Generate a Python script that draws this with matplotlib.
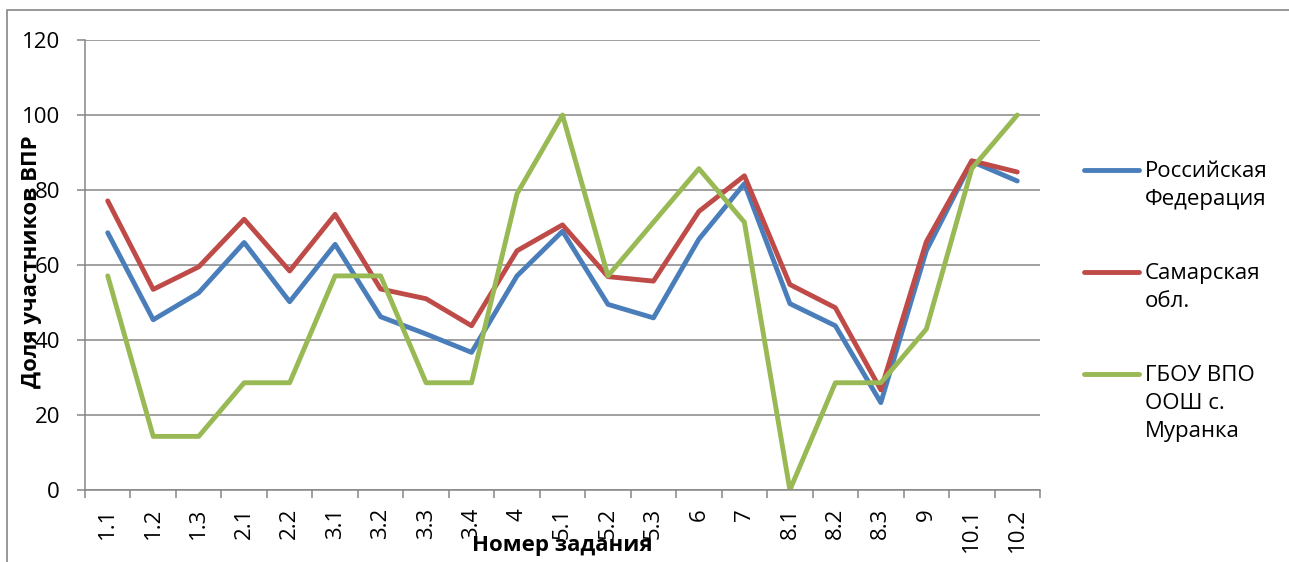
import matplotlib
matplotlib.use("Agg")
from matplotlib import pyplot as plt
from matplotlib.patches import Rectangle
from matplotlib.lines import Line2D
import numpy as np

plt.rcParams['font.family'] = ['Open Sans', 'DejaVu Sans']

tasks = ['1.1', '1.2', '1.3', '2.1', '2.2', '3.1', '3.2', '3.3', '3.4', '4',
         '5.1', '5.2', '5.3', '6', '7', '8.1', '8.2', '8.3', '9', '10.1', '10.2']

russia = [68.6, 45.4, 52.6, 66.0, 50.2, 65.5, 46.2, 41.6, 36.7, 57.1,
          69.0, 49.5, 45.9, 66.9, 81.7, 49.7, 43.8, 23.3, 63.8, 87.6, 82.4]
samara = [77.1, 53.5, 59.5, 72.2, 58.4, 73.5, 53.6, 51.0, 43.8, 63.8,
          70.7, 56.9, 55.7, 74.3, 83.8, 54.8, 48.6, 26.7, 66.2, 87.8, 84.8]
school = [57.1, 14.3, 14.3, 28.6, 28.6, 57.1, 57.1, 28.6, 28.6, 79.0,
          100.0, 57.1, 71.4, 85.7, 71.4, 0.0, 28.6, 28.6, 42.9, 85.7, 100.0]

names = ['Российская\nФедерация', 'Самарская\nобл.', 'ГБОУ ВПО\nООШ с.\nМуранка']
colors = ['#4A7EBB', '#BE4B48', '#98B954']

W, H = 1289, 562
fig = plt.figure(figsize=(W / 100, H / 100), dpi=100)
ax = fig.add_axes([85 / W, 72 / H, 955 / W, 450 / H])

x = np.arange(len(tasks))
for vals, name, c in zip([russia, samara, school], names, colors):
    ax.plot(x, vals, color=c, linewidth=3.5, label=name, solid_capstyle='round')

ax.set_ylim(0, 120)
ax.set_xlim(-0.5, len(tasks) - 0.5)
ax.set_yticks(range(0, 121, 20))
ax.yaxis.grid(True, color='#868686', linewidth=1.1)
ax.set_axisbelow(True)

ax.set_xticks(x)
ax.set_xticklabels(tasks, rotation=90, fontsize=16)
ax.set_xticks(np.arange(-0.5, len(tasks), 1), minor=True)
ax.tick_params(axis='x', which='major', length=0, pad=13)
ax.tick_params(axis='x', which='minor', length=6, color='#868686', width=1.1)
ax.tick_params(axis='y', length=6, color='#868686', width=1.1, labelsize=16, pad=12)

for s in ['top', 'right']:
    ax.spines[s].set_visible(False)
for s in ['left', 'bottom']:
    ax.spines[s].set_color('#868686')
    ax.spines[s].set_linewidth(1.1)

fig.text(32 / W, 1 - 262 / H, 'Доля участников ВПР', rotation=90,
         fontsize=16, fontweight='bold', ha='center', va='center')
fig.text(562 / W, 1 - 546 / H, 'Номер задания',
         fontsize=16, fontweight='bold', ha='center', va='center')

# legend drawn by hand so the line sits next to the first text line
legend_y = [170, 272, 374]
for name, c, ly in zip(names, colors, legend_y):
    fig.add_artist(Line2D([1084 / W, 1139 / W], [1 - ly / H, 1 - ly / H],
                          transform=fig.transFigure, color=c, linewidth=3.5,
                          solid_capstyle='round'))
    fig.text(1145 / W, 1 - (ly - 9) / H, name, fontsize=16, ha='left',
             va='top', linespacing=1.45)

fig.patches.append(Rectangle((7 / W, -0.1), 1.2, 1 - 10 / H + 0.1,
                             transform=fig.transFigure, fill=False,
                             edgecolor='#868686', linewidth=1.2))

fig.savefig('out.png', dpi=100)
